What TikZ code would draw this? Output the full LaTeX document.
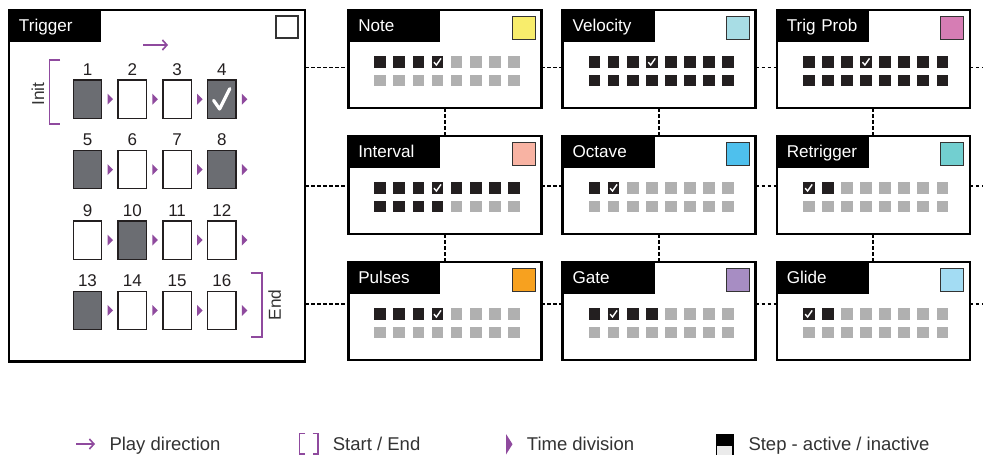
\documentclass[tikz,border=0pt]{standalone}
\usepackage{fontspec}
\setmainfont{Liberation Sans}
\usetikzlibrary{arrows.meta}
\definecolor{dk}{HTML}{231F20}
\definecolor{gy}{HTML}{B0B0B0}
\definecolor{sg}{HTML}{6B6D72}
\definecolor{purp}{HTML}{8F4A9E}
\definecolor{txt}{HTML}{333333}
\definecolor{cnote}{HTML}{F8ED6C}
\definecolor{cvel}{HTML}{A8DDE5}
\definecolor{ctrig}{HTML}{D67DB4}
\definecolor{cint}{HTML}{F8B3A3}
\definecolor{coct}{HTML}{4EC0ED}
\definecolor{cret}{HTML}{72CFD0}
\definecolor{cpul}{HTML}{F7A11F}
\definecolor{cgate}{HTML}{A78DC3}
\definecolor{cglide}{HTML}{A3DCF3}
\tikzset{
  panel/.style={draw=black, fill=white, line width=2.6pt, minimum width=193pt, minimum height=98pt, inner sep=0pt, outer sep=0pt},
  titlebox/.style={fill=black, text=white, anchor=north west, minimum height=31.5pt, inner xsep=10pt, inner ysep=0pt, outer sep=0pt, text width=72pt, text height=12.2pt, text depth=0pt, align=left, font=\fontsize{17.1}{19}\selectfont},
  swatch/.style={draw=black!80, line width=1pt, minimum size=23pt, inner sep=0pt, outer sep=0pt},
  stepbox/.style={draw=dk, line width=1.3pt, minimum width=28.4pt, minimum height=38.3pt, inner sep=0pt, outer sep=0pt},
  num/.style={anchor=base, inner sep=0pt, text=dk, font=\fontsize{17}{18}\selectfont},
  legtext/.style={anchor=base west, inner sep=0pt, text=txt, font=\fontsize{18.5}{20}\selectfont},
  sidetext/.style={rotate=90, inner sep=0pt, text=txt, text height=12.4pt, text depth=0pt, font=\fontsize{17.3}{19}\selectfont},
  conn/.style={draw=black, line width=1.8pt, dash pattern=on 3.5pt off 2.5pt},
  bracket/.style={draw=purp, line width=1.6pt},
}
\newcommand\drawcell[3]{%
  \ifcase#3\relax
    \fill[gy] (#1,#2) rectangle ++(11.7,11.7);
  \or
    \fill[dk] (#1,#2) rectangle ++(11.7,11.7);
  \or
    \fill[dk] (#1,#2) rectangle ++(11.7,11.7);
    \draw[white, line width=1.4pt] (#1+2.4,#2+6.2) -- ++(2.4,2.8) -- ++(4.6,-6.6);
  \fi}
\newcommand\lanepanel[7]{%
  \pgfmathsetmacro\lx{#3}\pgfmathsetmacro\ly{#4}%
  \node[panel] (#1) at (\lx+96.5,\ly+49) {};
  \node[titlebox] (#1t) at (\lx,\ly) {#2};
  \node[swatch, fill=#5] (#1c) at (\lx+175.5,\ly+17.5) {};
  \foreach \t [count=\i from 0] in {#6} {\drawcell{\lx+26+19.1*\i}{\ly+46}{\t}}
  \foreach \t [count=\i from 0] in {#7} {\drawcell{\lx+26+19.1*\i}{\ly+64.5}{\t}}
}
\begin{document}
\begin{tikzpicture}[x=1pt,y=-1pt]
\useasboundingbox (0,0) rectangle (983,455);
\fill[white] (0,0) rectangle (983,455);

% Trigger panel
\node[panel, minimum width=296pt, minimum height=351.5pt] (trig) at (157,185.75) {};
\node[titlebox] (trigt) at (9,10) {Trigger};
\node[swatch, fill=white, minimum size=22pt, line width=1.2pt] (trigc) at (287,27) {};
\coordinate (pa) at (143,45); \coordinate (pb) at (168,45);
\draw[purp, line width=1.6pt, -{Straight Barb[length=4.5pt,width=10pt]}] (pa) -- (pb);

\foreach \n/\f [count=\k from 0] in {1/sg,2/white,3/white,4/sg,5/sg,6/white,7/white,8/sg,9/white,10/sg,11/white,12/white,13/sg,14/white,15/white,16/white}{
  \pgfmathsetmacro\cx{87.5+44.8*mod(\k,4)}
  \pgfmathsetmacro\cy{99.2+70.4*floor(\k/4)}
  \node[stepbox, fill=\f] (s\n) at (\cx,\cy) {};
  \node[num] (n\n) at (\cx,\cy-23.7) {\n};
  \fill[purp] (\cx+20,\cy-5.5) -- (\cx+25.5,\cy) -- (\cx+20,\cy+5.5) -- cycle;
}
\draw[white, line width=3.2pt, line cap=round, line join=round] (213.6,100.4) -- (219.6,109) -- (229.8,88.6);

% Init / End brackets
\draw[bracket] (60,60) -- (49.3,60) -- (49.3,124) -- (60,124);
\node[sidetext] (init) at (38,94.2) {Init};
\draw[bracket] (250.7,272.7) -- (261.7,272.7) -- (261.7,336.7) -- (250.7,336.7);
\node[sidetext] (endl) at (274.6,305) {End};

% Lanes
\lanepanel{note}{Note}{348.3}{10}{cnote}{1,1,1,2,0,0,0,0}{0,0,0,0,0,0,0,0}
\lanepanel{vel}{Velocity}{562.6}{10}{cvel}{1,1,1,2,1,1,1,1}{1,1,1,1,1,1,1,1}
\lanepanel{tp}{Trig Prob}{776.8}{10}{ctrig}{1,1,1,2,1,1,1,1}{1,1,1,1,1,1,1,1}
\lanepanel{intv}{Interval}{348.3}{136}{cint}{1,1,1,2,1,1,1,1}{1,1,1,1,0,0,0,0}
\lanepanel{oct}{Octave}{562.6}{136}{coct}{1,2,0,0,0,0,0,0}{0,0,0,0,0,0,0,0}
\lanepanel{ret}{Retrigger}{776.8}{136}{cret}{2,1,0,0,0,0,0,0}{0,0,0,0,0,0,0,0}
\lanepanel{pul}{Pulses}{348.3}{262}{cpul}{1,1,1,2,0,0,0,0}{0,0,0,0,0,0,0,0}
\lanepanel{gate}{Gate}{562.6}{262}{cgate}{1,2,1,1,0,0,0,0}{0,0,0,0,0,0,0,0}
\lanepanel{gli}{Glide}{776.8}{262}{cglide}{2,1,0,0,0,0,0,0}{0,0,0,0,0,0,0,0}

% Connectors
\coordinate (e1) at (983,67.5);
\coordinate (e2) at (983,186);
\coordinate (e3) at (983,304);
\draw[conn] (trig.east |- e1) -- (note.west |- e1);
\draw[conn] (note.east |- e1) -- (vel.west |- e1);
\draw[conn] (vel.east |- e1) -- (tp.west |- e1);
\draw[conn] (tp.east |- e1) -- (e1);
\draw[conn] (trig.east |- e2) -- (intv.west |- e2);
\draw[conn] (intv.east |- e2) -- (oct.west |- e2);
\draw[conn] (oct.east |- e2) -- (ret.west |- e2);
\draw[conn] (ret.east |- e2) -- (e2);
\draw[conn] (trig.east |- e3) -- (pul.west |- e3);
\draw[conn] (pul.east |- e3) -- (gate.west |- e3);
\draw[conn] (gate.east |- e3) -- (gli.west |- e3);
\draw[conn] (gli.east |- e3) -- (e3);
\draw[conn] (note.south) -- (intv.north);
\draw[conn] (vel.south) -- (oct.north);
\draw[conn] (tp.south) -- (ret.north);
\draw[conn] (intv.south) -- (pul.north);
\draw[conn] (oct.south) -- (gate.north);
\draw[conn] (ret.south) -- (gli.north);

% Legend
\coordinate (la) at (76,444); \coordinate (lb) at (95,444);
\draw[purp, line width=1.6pt, -{Straight Barb[length=4.5pt,width=10pt]}] (la) -- (lb);
\node[legtext] (l1) at (109.3,450.7) {Play direction};
\draw[bracket, line width=1.8pt] (305,433.5) -- (299.5,433.5) -- (299.5,454) -- (305,454);
\draw[bracket, line width=1.8pt] (312.5,433.5) -- (318,433.5) -- (318,454) -- (312.5,454);
\node[legtext] (l2) at (332.7,450.7) {Start / End};
\fill[purp] (506,434) -- (512.5,444.2) -- (506,454.5) -- cycle;
\node[legtext] (l3) at (526.7,450.7) {Time division};
\filldraw[fill=black!8, draw=black, line width=1.2pt] (716.5,445) rectangle (733,456);
\fill[black] (716,433.5) rectangle (733.5,445.5);
\node[legtext] (l4) at (748.3,450.7) {Step - active / inactive};
\end{tikzpicture}
\end{document}
